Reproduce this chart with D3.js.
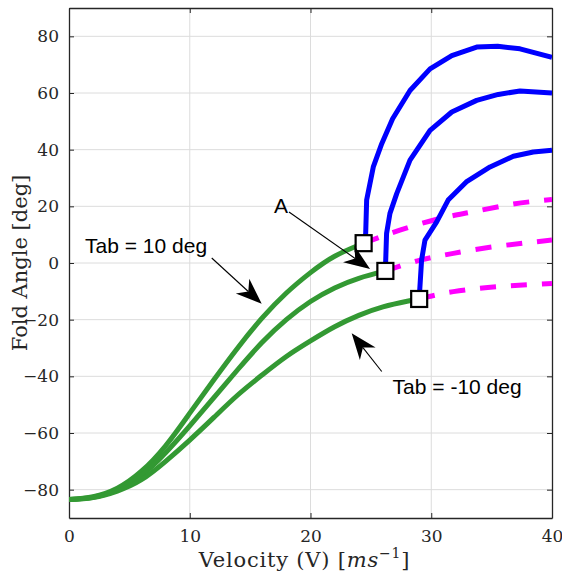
<!DOCTYPE html>
<html>
<head>
<meta charset="utf-8">
<script src="https://cdn.jsdelivr.net/npm/d3@7"></script>
<style>
  html, body { margin: 0; padding: 0; background: #fff; }
  svg { display: block; }
</style>
</head>
<body>
<svg id="chart" width="562" height="575"></svg>
<script>
// ---------- data ----------
const xTicks = [0, 10, 20, 30, 40];
const yTicks = [-80, -60, -40, -20, 0, 20, 40, 60, 80];

// stable (pre-flutter) branches
const tab10V    = [0, 2, 4, 6, 8, 10, 12, 14, 16, 18, 20, 22, 24, 24.4];
const tab10Fold = [-83.5, -82.5, -79.5, -73.5, -64.5, -53, -41.2, -29.8, -19.4, -10.6, -3.4, 2.4, 6.3, 7];
const tab0V     = [0, 2, 4, 6, 8, 10, 12, 14, 16, 18, 20, 22, 24, 26.2];
const tab0Fold  = [-83.5, -82.7, -80, -75, -67, -57.5, -47.5, -37.5, -28, -20, -13.6, -8.8, -5.4, -2.8];
const tabM10V   = [0, 2, 4, 6, 8, 10, 12, 14, 16, 18, 20, 22, 24, 26, 28, 29];
const tabM10Fold= [-83.5, -82.8, -80.5, -76.5, -70, -62.5, -54.5, -46.5, -39.5, -33, -27.5, -22.5, -18.5, -15.5, -13.5, -12.7];

// LCO branches (blue)
const lco10V    = [24.4, 24.57, 24.65, 25.2, 25.9, 26.8, 28.24, 29.9, 31.7, 33.76, 35.5, 37.35, 40];
const lco10Fold = [7, 10.4, 22.2, 33.9, 42.1, 50.9, 60.9, 68.5, 73.2, 76.2, 76.5, 75.6, 72.6];
const lco0V     = [26.2, 26.3, 26.58, 27.14, 28.24, 29.9, 31.7, 33.76, 35.55, 37.35, 40];
const lco0Fold  = [-2.8, 10.4, 17.5, 24.5, 36.3, 46.8, 53.3, 57.4, 59.5, 60.7, 60.0];
const lcoM10V   = [29.0, 29.2, 29.48, 30.45, 31.4, 32.9, 34.87, 36.8, 38.45, 40];
const lcoM10Fold= [-12.7, 1.06, 8.1, 14.5, 22.2, 28.6, 33.9, 37.7, 39.2, 39.8];

// unstable branches (magenta dashed)
const uns10V    = [24.4, 27.4, 30.7, 33.5, 36.8, 40];
const uns10Fold = [7, 11.6, 15.7, 18.1, 20.8, 22.4];
const uns0V     = [26.2, 29.07, 31.83, 35.1, 40];
const uns0Fold  = [-2.8, 1.0, 3.4, 5.7, 8.1];
const unsM10V   = [29, 31.83, 35.7, 40];
const unsM10Fold= [-12.7, -10.1, -8.3, -7.2];

// flutter (Hopf) points
const hopfV    = [24.4, 26.2, 29.0];
const hopfFold = [7, -2.8, -12.7];

// annotations (data coordinates)
const annTexts  = ["A", "Tab = 10 deg", "Tab = -10 deg"];
const annTextV  = [17.56, 1.33, 26.8];
const annTextF  = [17.6, 3.5, -46.1];
const annAnchor = ["middle", "start", "start"];
const arrowFromV = [18.22, 11.82, 25.9];
const arrowFromF = [18.0, 1.76, -38.3];
const arrowToV   = [24.93, 15.96, 23.41];
const arrowToF   = [-2.1, -14.4, -24.8];

// ---------- layout ----------
const W = 562, H = 575;
const m = {left: 69, right: 10, top: 8, bottom: 57};
const pw = W - m.left - m.right, ph = H - m.top - m.bottom;

const x = d3.scaleLinear().domain([0, 40]).range([m.left, m.left + pw]);
const y = d3.scaleLinear().domain([-90, 90]).range([m.top + ph, m.top]);

const svg = d3.select("#chart");
const axisColor = "#262626";
const serif = "'DejaVu Serif', 'Liberation Serif', serif";
const sans = "'Liberation Sans', Arial, sans-serif";

// grid
const grid = svg.append("g");
grid.selectAll("line.vx").data(xTicks.filter(t => t > 0 && t < 40)).join("line")
  .attr("x1", d => x(d)).attr("x2", d => x(d))
  .attr("y1", m.top).attr("y2", m.top + ph)
  .attr("stroke", "#dcdcdc").attr("stroke-width", 1);
grid.selectAll("line.hy").data(yTicks).join("line")
  .attr("y1", d => y(d)).attr("y2", d => y(d))
  .attr("x1", m.left).attr("x2", m.left + pw)
  .attr("stroke", "#dcdcdc").attr("stroke-width", 1);

// axes
const xAxis = d3.axisBottom(x).tickValues(xTicks).tickSizeInner(-5).tickSizeOuter(0).tickPadding(12);
const yAxis = d3.axisLeft(y).tickValues(yTicks).tickSizeInner(-5).tickSizeOuter(0).tickPadding(10);
const xTop = d3.axisTop(x).tickValues(xTicks).tickSizeInner(-5).tickSizeOuter(0).tickFormat("");
const yRight = d3.axisRight(y).tickValues(yTicks).tickSizeInner(-5).tickSizeOuter(0).tickFormat("");

function styleAxis(g) {
  g.select(".domain").attr("stroke", axisColor).attr("stroke-width", 1.3);
  g.selectAll(".tick line").attr("stroke", axisColor).attr("stroke-width", 1);
  g.selectAll(".tick text").attr("fill", axisColor).attr("font-family", serif).attr("font-size", 17);
}
svg.append("g").attr("transform", `translate(0,${m.top + ph})`).call(xAxis).call(styleAxis);
svg.append("g").attr("transform", `translate(${m.left},0)`).call(yAxis).call(styleAxis);
svg.append("g").attr("transform", `translate(0,${m.top})`).call(xTop).call(styleAxis);
svg.append("g").attr("transform", `translate(${m.left + pw},0)`).call(yRight).call(styleAxis);

// clip
svg.append("clipPath").attr("id", "clip").append("rect")
  .attr("x", m.left).attr("y", m.top).attr("width", pw).attr("height", ph);
const plot = svg.append("g").attr("clip-path", "url(#clip)");

const zip = (vs, fs) => vs.map((v, i) => [v, fs[i]]);
const smooth = d3.line().x(d => x(d[0])).y(d => y(d[1])).curve(d3.curveNatural);
const poly = d3.line().x(d => x(d[0])).y(d => y(d[1]));

const green = "#339933", blue = "#0000ff", magenta = "#ff00ff";
[[tab10V, tab10Fold], [tab0V, tab0Fold], [tabM10V, tabM10Fold]].forEach(([v, f]) => {
  plot.append("path").attr("d", smooth(zip(v, f))).attr("fill", "none")
    .attr("stroke", green).attr("stroke-width", 5).attr("stroke-linejoin", "round");
});
[[uns10V, uns10Fold], [uns0V, uns0Fold], [unsM10V, unsM10Fold]].forEach(([v, f]) => {
  plot.append("path").attr("d", smooth(zip(v, f))).attr("fill", "none")
    .attr("stroke", magenta).attr("stroke-width", 5).attr("stroke-dasharray", "16,15");
});
[[lco10V, lco10Fold], [lco0V, lco0Fold], [lcoM10V, lcoM10Fold]].forEach(([v, f]) => {
  plot.append("path").attr("d", poly(zip(v, f))).attr("fill", "none")
    .attr("stroke", blue).attr("stroke-width", 5).attr("stroke-linejoin", "round");
});

// Hopf markers
const sq = 16;
svg.selectAll("rect.hopf").data(zip(hopfV, hopfFold)).join("rect")
  .attr("x", d => x(d[0]) - sq / 2).attr("y", d => y(d[1]) - sq / 2)
  .attr("width", sq).attr("height", sq)
  .attr("fill", "#fff").attr("stroke", "#000").attr("stroke-width", 2.2);

// annotations
const ann = svg.append("g");
annTexts.forEach((t, i) => {
  ann.append("text").attr("x", x(annTextV[i])).attr("y", y(annTextF[i]))
    .attr("text-anchor", annAnchor[i]).attr("font-family", sans).attr("font-size", 21)
    .attr("fill", "#000").text(t);
  const x1 = x(arrowFromV[i]), y1 = y(arrowFromF[i]);
  const x2 = x(arrowToV[i]), y2 = y(arrowToF[i]);
  const ang = Math.atan2(y2 - y1, x2 - x1) * 180 / Math.PI;
  const len = Math.hypot(x2 - x1, y2 - y1);
  const L = 26, Wd = 20;
  const g = ann.append("g").attr("transform", `translate(${x2},${y2}) rotate(${ang})`);
  g.append("line").attr("x1", -len).attr("y1", 0).attr("x2", -L * 0.7).attr("y2", 0)
    .attr("stroke", "#000").attr("stroke-width", 1.1);
  g.append("path").attr("d", `M0,0 L${-L},${Wd / 2} L${-L * 0.7},0 L${-L},${-Wd / 2} Z`)
    .attr("fill", "#000");
});

// axis labels
const xl = svg.append("text").attr("x", 304.5).attr("y", 567)
  .attr("text-anchor", "middle").attr("font-family", serif).attr("font-size", 21)
  .attr("letter-spacing", 0.8).attr("fill", axisColor);
xl.append("tspan").text("Velocity (V) [");
xl.append("tspan").attr("font-style", "italic").text("ms");
xl.append("tspan").attr("font-size", 14).attr("dy", -9).text("\u22121");
xl.append("tspan").attr("dy", 9).text("]");

svg.append("text").attr("transform", `translate(27,${y(0)}) rotate(-90)`)
  .attr("text-anchor", "middle").attr("font-family", serif).attr("font-size", 21)
  .attr("fill", axisColor)
  .text("Fold Angle [deg]");
</script>
</body>
</html>
